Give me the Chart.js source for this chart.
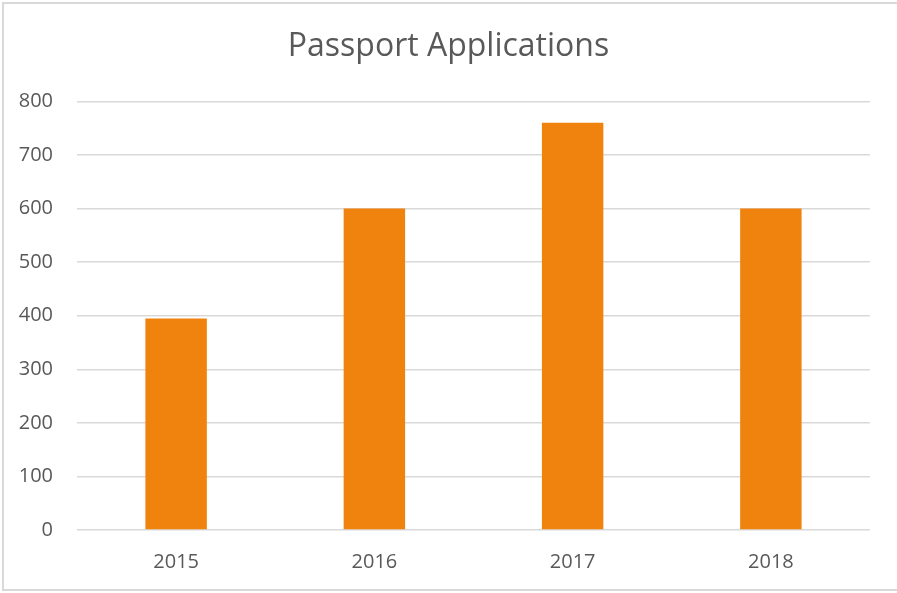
<!DOCTYPE html>
<html>
<head>
<meta charset="utf-8">
<script src="https://cdn.jsdelivr.net/npm/chart.js@4"></script>
<style>
  body { margin: 0; background: #fff; overflow: hidden; }
  #wrap { position: relative; width: 897px; height: 593px; overflow: hidden; }
  #frame { position: absolute; left: 2px; top: 2px; width: 900px; height: 589px;
           border: 2px solid #d9d9d9; box-sizing: border-box; pointer-events: none; }
</style>
</head>
<body>
<div id="wrap">
  <canvas id="passportChart" width="897" height="593"></canvas>
  <div id="frame"></div>
</div>
<script>
// Passport Applications
const years = ["2015", "2016", "2017", "2018"];
const applications = [395, 600, 760, 600];
const yTicks = [0, 100, 200, 300, 400, 500, 600, 700, 800];

const textColor = "#595959";
const gridColor = "#d9d9d9";

new Chart(document.getElementById("passportChart"), {
    type: "bar",
    data: {
        labels: years,
        datasets: [
            {
                label: "Applications",
                data: applications,
                backgroundColor: "#F0820E",
                categoryPercentage: 1,
                barPercentage: 0.31
            }
        ]
    },
    options: {
        responsive: false,
        animation: false,
        layout: { padding: 0 },
        plugins: {
            legend: { display: false },
            tooltip: { enabled: false },
            title: {
                display: true,
                text: "Passport Applications",
                color: textColor,
                font: { family: "Open Sans", size: 32, weight: "normal", lineHeight: 1.2 },
                padding: { top: 28, bottom: 35 }
            }
        },
        scales: {
            x: {
                grid: { display: false },
                border: { display: false },
                ticks: {
                    color: textColor,
                    font: { family: "Open Sans", size: 20 },
                    padding: 12
                },
                afterFit: function (scale) { scale.height = 63; }
            },
            y: {
                min: 0,
                max: 800,
                afterBuildTicks: function (scale) {
                    scale.ticks = yTicks.map(v => ({ value: v }));
                },
                grid: { color: gridColor, lineWidth: 1.5, drawTicks: false },
                border: { display: false },
                ticks: {
                    color: textColor,
                    font: { family: "Open Sans", size: 20 },
                    padding: 24
                },
                afterFit: function (scale) { scale.width = 77; }
            },
            // empty right-hand space so the title centres on the whole frame
            yRight: {
                position: "right",
                min: 0,
                max: 800,
                grid: { display: false },
                border: { display: false },
                ticks: { display: false },
                afterFit: function (scale) { scale.width = 27; }
            }
        }
    }
});
</script>
</body>
</html>
